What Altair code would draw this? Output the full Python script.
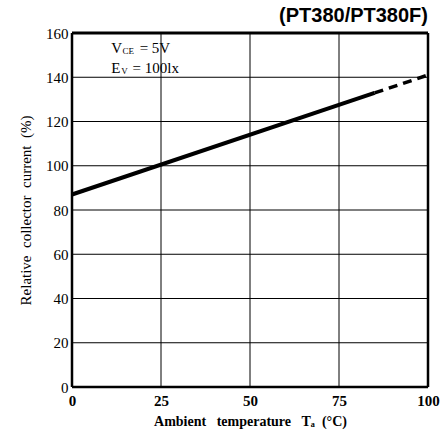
import altair as alt
import pandas as pd

# data
solid_T = [0, 85]
solid_I = [87, 132.9]
dash_T = [85, 100]
dash_I = [132.9, 141]
x_ticks = [0, 25, 50, 75, 100]
y_ticks = [0, 20, 40, 60, 80, 100, 120, 140, 160]
h_grid = [20, 40, 60, 80, 100, 120, 140]
v_grid = [25, 50, 75]

W, H = 356, 354
serif = "Liberation Serif"
S = "\u00a0"

xs = alt.Scale(domain=[0, 100], nice=False, zero=False)
ys = alt.Scale(domain=[0, 160], nice=False, zero=False)

base = alt.Chart(pd.DataFrame({"T": solid_T, "I": solid_I}))

solid = base.mark_line(color="black", strokeWidth=4).encode(
    x=alt.X("T:Q", scale=xs, axis=alt.Axis(
        values=x_ticks, title=f"Ambient{S*3}temperature{S*3}Tₐ{S*2}(°C)", domain=False, ticks=False,
        grid=False, labelFont=serif, labelFontSize=15, labelFontWeight="bold", labelColor="black",
        labelPadding=6, titleFont=serif, titleFontSize=14, titleFontWeight="bold",
        titleColor="black", titlePadding=6, labelFlush=False)),
    y=alt.Y("I:Q", scale=ys, axis=alt.Axis(
        values=y_ticks, title=f"Relative{S*2}collector{S*2}current{S*2}(%)", domain=False, ticks=False,
        grid=False, labelFont=serif, labelFontSize=15, labelColor="black", labelPadding=4,
        titleFont=serif, titleFontSize=15, titleFontWeight="normal", titleColor="black",
        titlePadding=12, labelFlush=False)),
)

dashed = alt.Chart(pd.DataFrame({"T": dash_T, "I": dash_I})).mark_line(
    color="black", strokeWidth=3.5, strokeDash=[9, 6]).encode(x="T:Q", y="I:Q")

hg = alt.Chart(pd.DataFrame({"y": h_grid})).mark_rule(color="black", strokeWidth=1).encode(
    y="y:Q", x=alt.value(0), x2=alt.value(W))
vg = alt.Chart(pd.DataFrame({"x": v_grid})).mark_rule(color="black", strokeWidth=1).encode(
    x="x:Q", y=alt.value(0), y2=alt.value(H))

frame_h = alt.Chart(pd.DataFrame({"y": [160, 0], "w": [3, 2.5]})).mark_rule(color="black").encode(
    y="y:Q", x=alt.value(0), x2=alt.value(W), strokeWidth=alt.StrokeWidth("w:Q", scale=None))
frame_v = alt.Chart(pd.DataFrame({"x": [0, 100]})).mark_rule(color="black", strokeWidth=2.5).encode(
    x="x:Q", y=alt.value(0), y2=alt.value(H))


def txt(T, I, s, size):
    return alt.Chart(pd.DataFrame({"T": [T], "I": [I], "txt": [s]})).mark_text(
        font=serif, fontSize=size, align="left", color="black").encode(x="T:Q", y="I:Q", text="txt:N")


v1 = txt(11, 153.3, "V", 15)
v1s = txt(14.2, 151.8, "CE", 9)
v1r = txt(19.0, 153.3, "= 5V", 15)
e1 = txt(11, 144.3, "E", 15)
e1s = txt(13.8, 142.8, "V", 9)
e1r = txt(17.0, 144.3, "= 100lx", 15)

title = alt.Chart(pd.DataFrame({"t": ["(PT380/PT380F)"]})).mark_text(
    font="Liberation Sans", fontSize=20, fontWeight="bold", align="right", baseline="alphabetic",
    color="black").encode(x=alt.value(W), y=alt.value(-11), text="t:N")

chart = alt.layer(hg, vg, frame_h, frame_v, solid, dashed, v1, v1s, v1r, e1, e1s, e1r, title).properties(
    width=W, height=H,
    autosize=alt.AutoSizeParams(type="none"),
    padding={"left": 72, "top": 33, "right": 16, "bottom": 55},
).configure_view(stroke=None).configure(background="white")

chart.save("out.html", embed_options={"renderer": "svg", "actions": False})
